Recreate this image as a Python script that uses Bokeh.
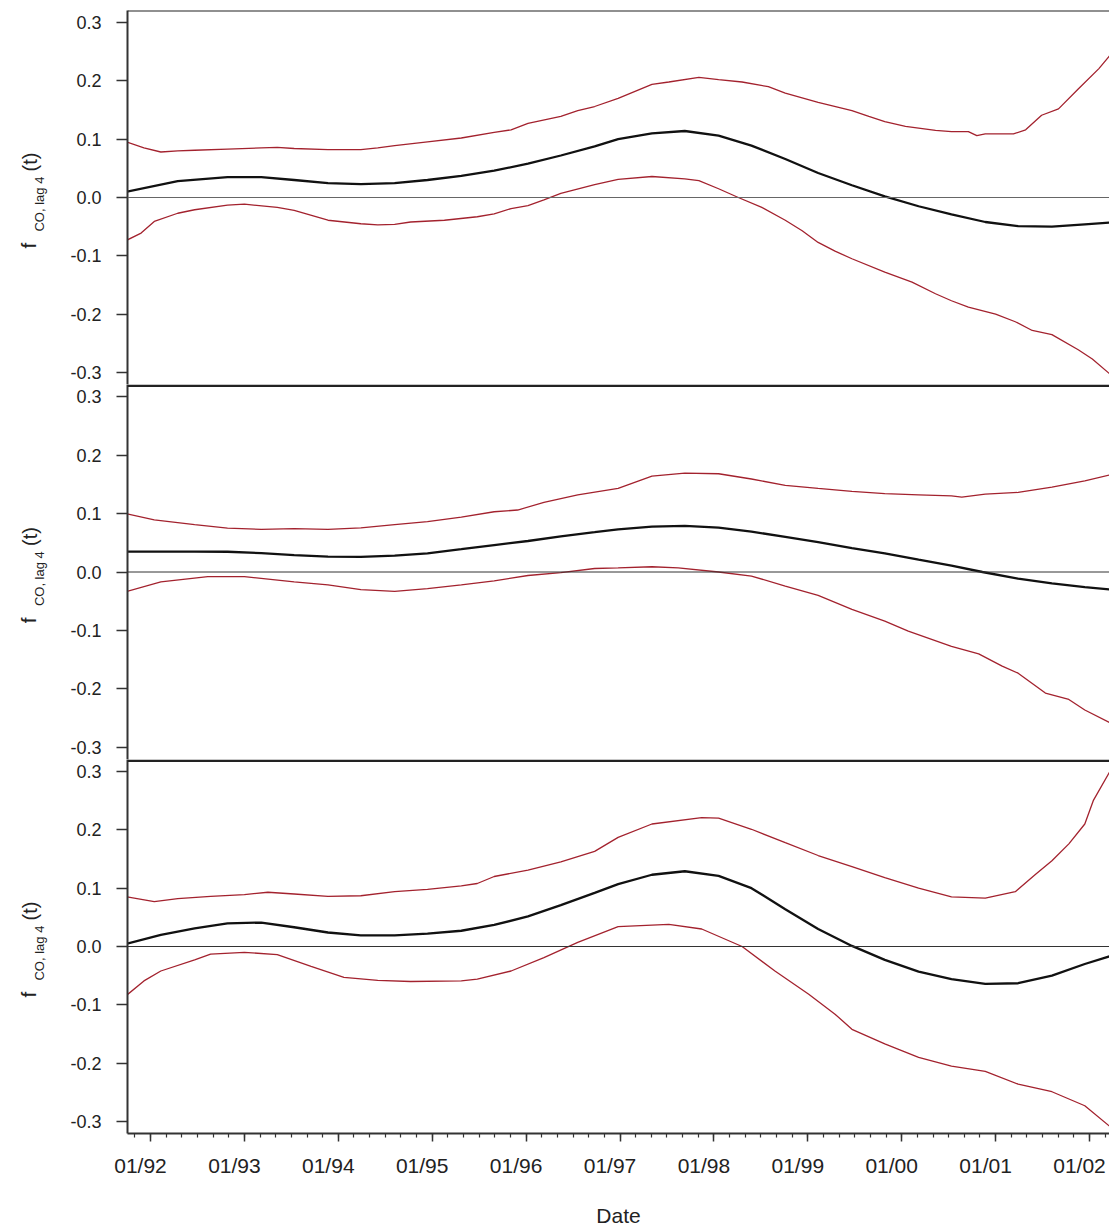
import math
from bokeh.plotting import figure
from bokeh.models import FixedTicker, Span, PrintfTickFormatter, Range1d, LinearAxis
from bokeh.core.properties import value
from bokeh.layouts import column, row
from bokeh.embed import file_html
from bokeh.resources import INLINE

# ---------------- data (decimal years, values) ----------------
years = [1992, 1993, 1994, 1995, 1996, 1997, 1998, 1999, 2000, 2001, 2002]
year_labels = ["01/92", "01/93", "01/94", "01/95", "01/96", "01/97",
               "01/98", "01/99", "01/00", "01/01", "01/02"]
y_ticks = [-0.3, -0.2, -0.1, 0.0, 0.1, 0.2, 0.3]

# panel 1
fit1_t = [1991.75, 1992.29, 1992.82, 1993.18, 1993.53, 1993.89, 1994.24, 1994.60, 1994.95, 1995.31,
          1995.66, 1996.02, 1996.37, 1996.73, 1996.98, 1997.34, 1997.69, 1998.05, 1998.40, 1998.76,
          1999.11, 1999.47, 1999.82, 2000.18, 2000.53, 2000.89, 2001.24, 2001.60, 2001.95, 2002.22]
fit1 = [0.010, 0.028, 0.035, 0.035, 0.030, 0.0245, 0.023, 0.0245, 0.030, 0.037,
        0.046, 0.058, 0.072, 0.0875, 0.100, 0.110, 0.114, 0.106, 0.089, 0.066,
        0.042, 0.021, 0.002, -0.015, -0.029, -0.042, -0.049, -0.050, -0.046, -0.043]
up1_t = [1991.75, 1991.93, 1992.11, 1992.29, 1992.47, 1992.82, 1993.18, 1993.35, 1993.53, 1993.89,
         1994.24, 1994.42, 1994.60, 1994.95, 1995.31, 1995.66, 1995.84, 1996.02, 1996.37, 1996.55,
         1996.73, 1996.98, 1997.34, 1997.52, 1997.84, 1998.05, 1998.30, 1998.58, 1998.76, 1999.11,
         1999.47, 1999.65, 1999.82, 2000.04, 2000.36, 2000.53, 2000.71, 2000.80, 2000.89, 2001.19,
         2001.32, 2001.49, 2001.67, 2001.88, 2002.10, 2002.22]
up1 = [0.095, 0.085, 0.078, 0.080, 0.081, 0.083, 0.085, 0.086, 0.084, 0.082,
       0.082, 0.085, 0.089, 0.0955, 0.102, 0.1115, 0.116, 0.127, 0.139, 0.149,
       0.156, 0.170, 0.194, 0.198, 0.206, 0.202, 0.198, 0.190, 0.179, 0.163,
       0.149, 0.139, 0.130, 0.122, 0.115, 0.113, 0.113, 0.106, 0.109, 0.109,
       0.116, 0.141, 0.152, 0.186, 0.221, 0.244]
lo1_t = [1991.75, 1991.90, 1992.04, 1992.29, 1992.47, 1992.82, 1993.00, 1993.35, 1993.53, 1993.89,
         1994.24, 1994.42, 1994.60, 1994.77, 1995.13, 1995.48, 1995.66, 1995.84, 1996.02, 1996.19,
         1996.37, 1996.73, 1996.98, 1997.34, 1997.69, 1997.84, 1998.05, 1998.26, 1998.51, 1998.76,
         1998.94, 1999.11, 1999.29, 1999.47, 1999.82, 2000.11, 2000.36, 2000.53, 2000.71, 2001.00,
         2001.21, 2001.39, 2001.60, 2001.88, 2002.03, 2002.22]
lo1 = [-0.073, -0.061, -0.041, -0.027, -0.021, -0.013, -0.0115, -0.017, -0.022, -0.039,
       -0.045, -0.047, -0.046, -0.042, -0.039, -0.033, -0.028, -0.019, -0.014, -0.004,
       0.007, 0.022, 0.031, 0.036, 0.032, 0.029, 0.015, 0.0, -0.017, -0.039,
       -0.057, -0.077, -0.092, -0.105, -0.128, -0.145, -0.165, -0.177, -0.188, -0.200,
       -0.213, -0.228, -0.235, -0.261, -0.277, -0.303]

# panel 2
fit2_t = [1991.75, 1992.47, 1992.82, 1993.18, 1993.53, 1993.89, 1994.24, 1994.60, 1994.95, 1995.31,
          1995.66, 1996.02, 1996.37, 1996.73, 1996.98, 1997.34, 1997.69, 1998.05, 1998.40, 1998.76,
          1999.11, 1999.47, 1999.82, 2000.18, 2000.53, 2000.86, 2001.24, 2001.60, 2001.95, 2002.22]
fit2 = [0.035, 0.035, 0.0346, 0.0323, 0.029, 0.0264, 0.026, 0.028, 0.032, 0.039,
        0.046, 0.053, 0.061, 0.068, 0.073, 0.0777, 0.079, 0.076, 0.069, 0.060,
        0.051, 0.041, 0.032, 0.021, 0.011, 0.0, -0.0115, -0.0195, -0.0257, -0.030]
up2_t = [1991.75, 1992.04, 1992.47, 1992.82, 1993.18, 1993.53, 1993.89, 1994.24, 1994.60, 1994.95,
         1995.31, 1995.66, 1995.91, 1996.19, 1996.55, 1996.98, 1997.34, 1997.69, 1998.05, 1998.40,
         1998.76, 1999.11, 1999.47, 1999.82, 2000.18, 2000.53, 2000.64, 2000.89, 2001.24, 2001.60,
         2001.95, 2002.22]
up2 = [0.0995, 0.089, 0.081, 0.075, 0.073, 0.074, 0.073, 0.0755, 0.081, 0.086,
       0.094, 0.103, 0.106, 0.119, 0.132, 0.143, 0.164, 0.169, 0.168, 0.159,
       0.148, 0.143, 0.138, 0.134, 0.132, 0.130, 0.128, 0.133, 0.136, 0.145,
       0.156, 0.166]
lo2_t = [1991.75, 1992.11, 1992.61, 1993.00, 1993.53, 1993.89, 1994.24, 1994.60, 1994.95, 1995.31,
         1995.66, 1996.02, 1996.37, 1996.73, 1996.98, 1997.34, 1997.62, 1998.05, 1998.40, 1998.76,
         1999.11, 1999.47, 1999.82, 2000.07, 2000.53, 2000.82, 2001.07, 2001.24, 2001.53, 2001.78,
         2001.95, 2002.22]
lo2 = [-0.033, -0.017, -0.008, -0.008, -0.017, -0.022, -0.030, -0.033, -0.0285, -0.022,
       -0.015, -0.006, -0.001, 0.006, 0.007, 0.009, 0.007, 0.0, -0.007, -0.024,
       -0.040, -0.064, -0.084, -0.101, -0.127, -0.140, -0.161, -0.173, -0.207, -0.218,
       -0.236, -0.258]

# panel 3
fit3_t = [1991.75, 1992.11, 1992.47, 1992.82, 1993.18, 1993.53, 1993.89, 1994.24, 1994.60, 1994.95,
          1995.31, 1995.66, 1996.02, 1996.37, 1996.73, 1996.98, 1997.34, 1997.69, 1998.05, 1998.40,
          1998.76, 1999.11, 1999.47, 1999.82, 2000.18, 2000.53, 2000.89, 2001.24, 2001.60, 2001.95,
          2002.22]
fit3 = [0.005, 0.020, 0.031, 0.0395, 0.041, 0.033, 0.024, 0.019, 0.019, 0.022,
        0.027, 0.037, 0.0515, 0.071, 0.092, 0.107, 0.123, 0.129, 0.121, 0.100,
        0.064, 0.030, 0.001, -0.023, -0.043, -0.056, -0.064, -0.063, -0.050, -0.030,
        -0.0165]
up3_t = [1991.75, 1992.04, 1992.29, 1992.64, 1993.00, 1993.25, 1993.53, 1993.89, 1994.24, 1994.60,
         1994.95, 1995.31, 1995.48, 1995.66, 1996.02, 1996.37, 1996.73, 1996.98, 1997.34, 1997.87,
         1998.05, 1998.40, 1998.76, 1999.11, 1999.47, 1999.82, 2000.18, 2000.53, 2000.89, 2001.21,
         2001.42, 2001.60, 2001.78, 2001.95, 2002.04, 2002.22]
up3 = [0.085, 0.077, 0.082, 0.086, 0.089, 0.093, 0.090, 0.086, 0.087, 0.094,
       0.098, 0.104, 0.108, 0.120, 0.131, 0.145, 0.163, 0.187, 0.210, 0.221,
       0.220, 0.201, 0.178, 0.156, 0.137, 0.118, 0.100, 0.085, 0.083, 0.094,
       0.123, 0.147, 0.176, 0.210, 0.250, 0.301]
lo3_t = [1991.75, 1991.93, 1992.11, 1992.47, 1992.64, 1993.00, 1993.35, 1993.71, 1994.06, 1994.42,
         1994.77, 1995.31, 1995.48, 1995.84, 1996.19, 1996.55, 1996.98, 1997.52, 1997.87, 1998.30,
         1998.65, 1999.01, 1999.29, 1999.47, 1999.82, 2000.18, 2000.53, 2000.89, 2001.24, 2001.60,
         2001.95, 2002.22]
lo3 = [-0.083, -0.059, -0.042, -0.023, -0.013, -0.010, -0.014, -0.034, -0.053, -0.058,
       -0.060, -0.059, -0.056, -0.042, -0.019, 0.007, 0.034, 0.038, 0.030, 0.0,
       -0.042, -0.082, -0.116, -0.142, -0.167, -0.190, -0.205, -0.214, -0.236, -0.249,
       -0.273, -0.309]

panels = [
    (fit1_t, fit1, up1_t, up1, lo1_t, lo1),
    (fit2_t, fit2, up2_t, up2, lo2_t, lo2),
    (fit3_t, fit3, up3_t, up3, lo3_t, lo3),
]

# y-axis title pieces (rotated)
title_parts = ["f", "CO, lag 4", "(t)"]

# ---------------- styling / layout ----------------
X0, X1 = 1991.755, 2002.213
YLIM = 0.3206
PX_PER_YEAR = 93.9
PX_PER_UNIT = 583.0
FONT = "Liberation Sans"
RED = "#A3222E"
TITLE_W = 50
LABEL_SHIFT = 10.0 / PX_PER_YEAR   # tick labels sit slightly left of the ticks
minor_x = [1991 + k / 6.0 for k in range(0, 70)]
minor_x = [m for m in minor_x if X0 <= m <= X1]


def make_title_fig(height, top, bottom):
    t = figure(width=TITLE_W, height=height,
               x_range=Range1d(0, TITLE_W), y_range=Range1d(-YLIM, YLIM),
               output_backend="svg", toolbar_location=None,
               x_axis_location=None, y_axis_location=None,
               min_border_left=0, min_border_right=0,
               min_border_top=top, min_border_bottom=bottom)
    t.outline_line_color = None
    t.xgrid.visible = False
    t.ygrid.visible = False
    t.border_fill_color = "white"
    t.text(x=[28], y=[-51 / PX_PER_UNIT], text=[title_parts[0]], angle=math.pi / 2,
           text_font=value(FONT), text_font_size=value("21px"), text_color="#222222",
           text_align="left", text_baseline="alphabetic")
    t.text(x=[39], y=[-34 / PX_PER_UNIT], text=[title_parts[1]], angle=math.pi / 2,
           text_font=value(FONT), text_font_size=value("13px"), text_color="#222222",
           text_align="left", text_baseline="alphabetic")
    t.text(x=[29], y=[26 / PX_PER_UNIT], text=[title_parts[2]], angle=math.pi / 2,
           text_font=value(FONT), text_font_size=value("20px"), text_color="#222222",
           text_align="left", text_baseline="alphabetic")
    return t


def make_panel(idx, height, top, bottom, with_xaxis):
    p = figure(width=1109 - TITLE_W, height=height,
               x_range=Range1d(X0, X1), y_range=Range1d(-YLIM, YLIM),
               output_backend="svg", toolbar_location=None,
               x_axis_location="below" if with_xaxis else None,
               min_border_left=127 - TITLE_W, min_border_right=0,
               min_border_top=top, min_border_bottom=bottom)
    p.outline_line_color = None
    p.xgrid.visible = False
    p.ygrid.visible = False
    p.background_fill_color = "white"
    p.border_fill_color = "white"

    ya = p.yaxis[0]
    ya.ticker = FixedTicker(ticks=y_ticks, minor_ticks=[])
    ya.formatter = PrintfTickFormatter(format="%.1f")
    ya.axis_line_color = "#333333"
    ya.axis_line_width = 2
    ya.major_tick_line_color = "#333333"
    ya.major_tick_line_width = 1.5
    ya.major_tick_out = 11
    ya.major_tick_in = 0
    ya.minor_tick_line_color = None
    ya.major_label_standoff = 15
    ya.major_label_text_font = FONT
    ya.major_label_text_font_size = "18px"
    ya.major_label_text_color = "#222222"

    if with_xaxis:
        # tick axis (no labels)
        xa = p.xaxis[0]
        xa.ticker = FixedTicker(ticks=years, minor_ticks=minor_x)
        xa.major_label_overrides = {y: "" for y in years}
        xa.major_label_text_font_size = "1px"
        xa.major_label_standoff = 0
        xa.axis_line_color = "#333333"
        xa.axis_line_width = 2
        xa.major_tick_line_color = "#333333"
        xa.major_tick_line_width = 1.5
        xa.major_tick_out = 8
        xa.major_tick_in = 0
        xa.minor_tick_line_color = "#333333"
        xa.minor_tick_line_width = 1.2
        xa.minor_tick_out = 4
        xa.minor_tick_in = 0
        # label axis
        label_pos = [y - LABEL_SHIFT for y in years]
        la = LinearAxis(ticker=FixedTicker(ticks=label_pos, minor_ticks=[]),
                        major_label_overrides={lp: lab for lp, lab in zip(label_pos, year_labels)})
        la.axis_line_color = None
        la.major_tick_line_color = None
        la.minor_tick_line_color = None
        la.major_tick_out = 0
        la.major_tick_in = 0
        la.major_label_standoff = 12
        la.major_label_text_font = FONT
        la.major_label_text_font_size = "21px"
        la.major_label_text_color = "#222222"
        la.axis_label = "Date"
        la.axis_label_text_font = FONT
        la.axis_label_text_font_size = "21px"
        la.axis_label_text_font_style = "normal"
        la.axis_label_text_color = "#222222"
        la.axis_label_standoff = 24
        p.add_layout(la, "below")

    # border at the top of each panel (top frame line / separator)
    if idx == 0:
        p.add_layout(Span(location=YLIM, dimension="width", line_color="#222222", line_width=2))
    else:
        p.add_layout(Span(location=YLIM - 1.2 / PX_PER_UNIT, dimension="width",
                          line_color="#222222", line_width=2.4))
    # zero line
    p.add_layout(Span(location=0.0, dimension="width",
                      line_color="#666666" if idx == 0 else "#333333", line_width=1))

    ft, fv, ut, uv, lt, lv = panels[idx]
    p.line(ut, uv, line_color=RED, line_width=1.3)
    p.line(lt, lv, line_color=RED, line_width=1.3)
    p.line(ft, fv, line_color="#111111", line_width=2.3)
    return p


rows = []
for idx, (h, top, bottom, xax) in enumerate([(384, 10, 0, False), (375, 0, 0, False), (470, 0, 96, True)]):
    rows.append(row(make_title_fig(h, top, bottom), make_panel(idx, h, top, bottom, xax), spacing=0))

layout = column(*rows, spacing=0)
open("out.html", "w").write(file_html(layout, INLINE))
